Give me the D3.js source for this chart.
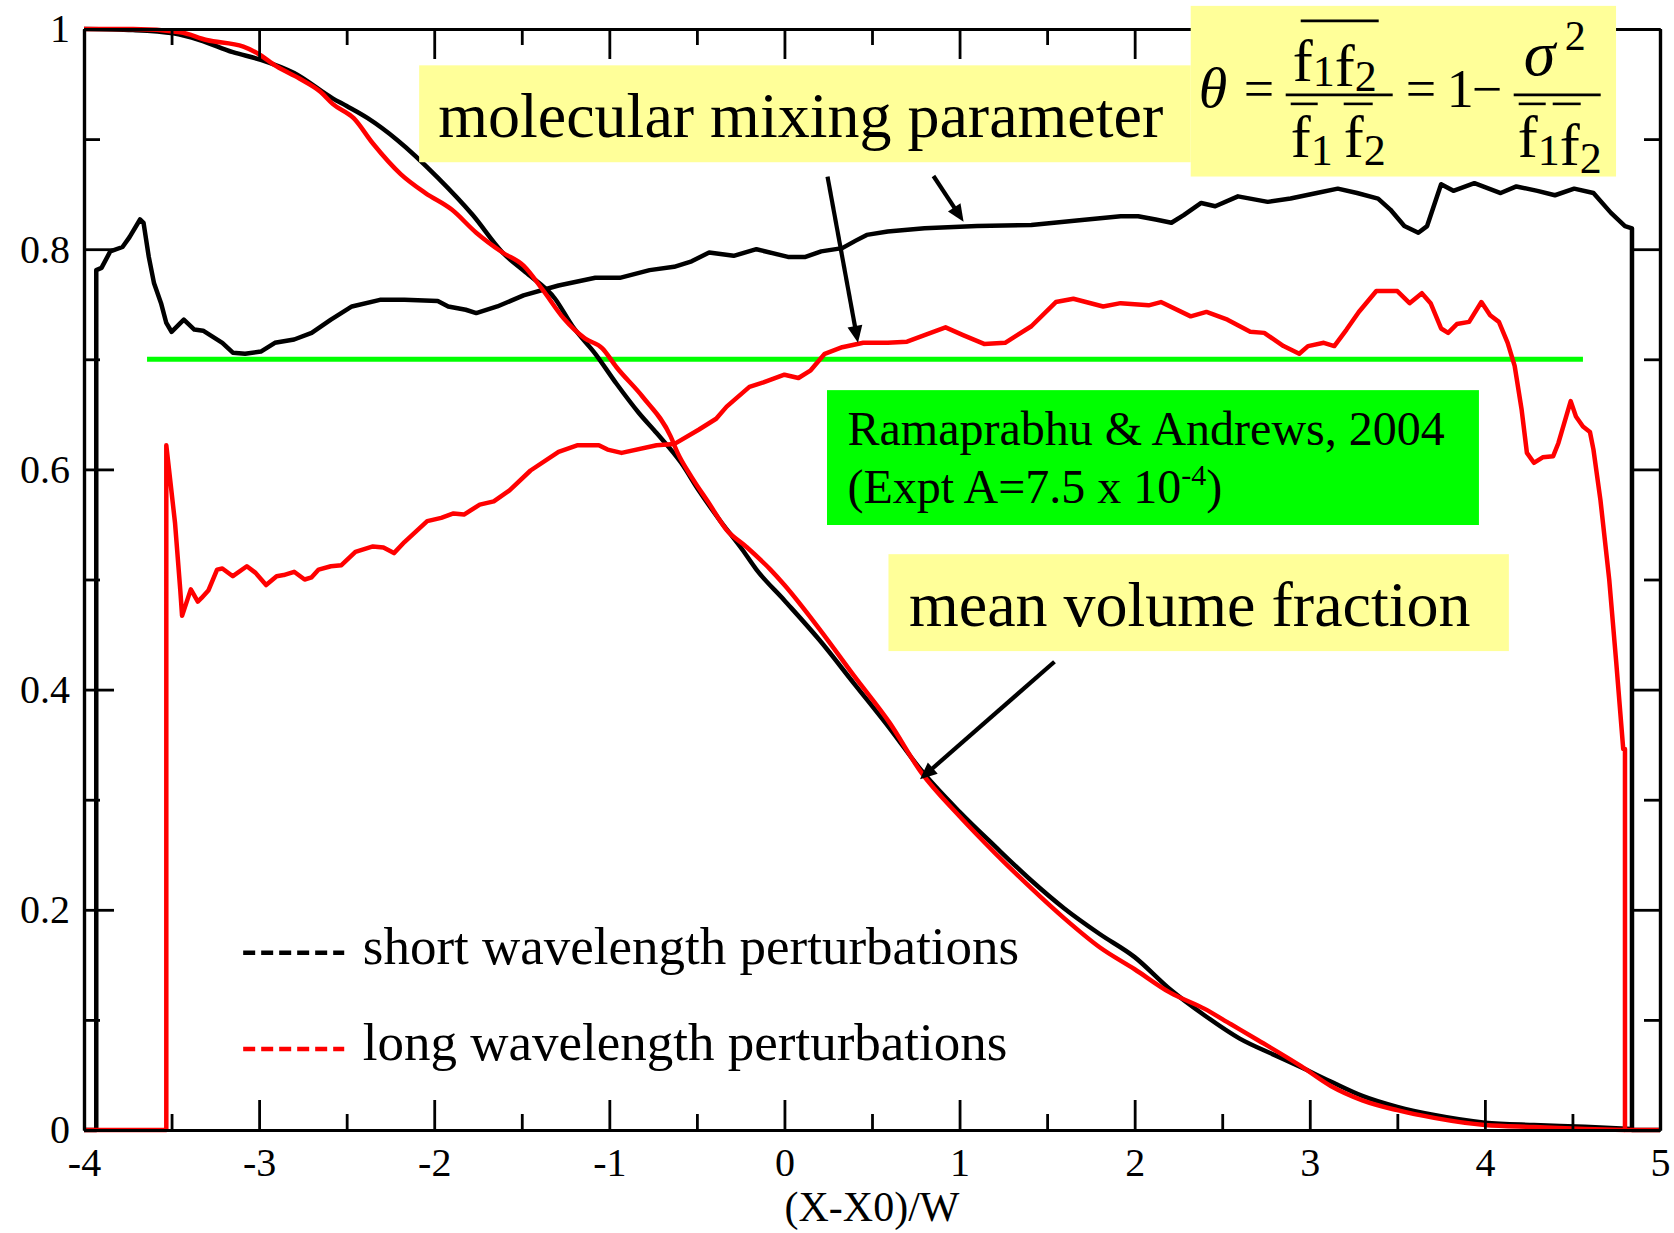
<!DOCTYPE html>
<html>
<head>
<meta charset="utf-8">
<script src="https://cdn.jsdelivr.net/npm/d3@7"></script>
<style>
  html, body { margin: 0; padding: 0; background: #fff; }
  svg { display: block; }
  text { font-family: "Liberation Serif", "Times New Roman", serif; fill: #000; }
</style>
</head>
<body>
<svg id="chart" width="1674" height="1233"></svg>
<script>
// ---- axis ticks ----
const xTicks = [-4, -3, -2, -1, 0, 1, 2, 3, 4, 5];
const xTickLabels = ["-4", "-3", "-2", "-1", "0", "1", "2", "3", "4", "5"];
const xMinorTicks = [-3.5, -2.5, -1.5, -0.5, 0.5, 1.5, 2.5, 3.5, 4.5];
const yTicks = [0, 0.2, 0.4, 0.6, 0.8, 1];
const yTickLabels = ["0", "0.2", "0.4", "0.6", "0.8", "1"];
const yMinorTicks = [0.1, 0.3, 0.5, 0.7, 0.9];

// ---- mean volume fraction profiles [x, f] ----
const volShort = [
  [-4.0, 1.0], [-3.72, 0.999], [-3.49, 0.996], [-3.34, 0.990], [-3.15, 0.979], [-2.99, 0.972],
  [-2.80, 0.960], [-2.58, 0.937], [-2.50, 0.930], [-2.38, 0.919], [-2.21, 0.899], [-1.98, 0.865],
  [-1.78, 0.831], [-1.61, 0.797], [-1.47, 0.778], [-1.31, 0.755], [-1.21, 0.730], [-1.08, 0.705],
  [-0.96, 0.678], [-0.83, 0.651], [-0.73, 0.633], [-0.59, 0.606], [-0.49, 0.581], [-0.37, 0.554],
  [-0.24, 0.527], [-0.16, 0.509], [0.0, 0.481], [0.2, 0.445], [0.4, 0.405], [0.6, 0.365],
  [0.78, 0.327], [1.0, 0.289], [1.2, 0.258], [1.4, 0.228], [1.6, 0.201], [1.8, 0.178],
  [2.0, 0.157], [2.2, 0.128], [2.4, 0.104], [2.6, 0.083], [2.8, 0.068], [2.95, 0.057],
  [3.12, 0.044], [3.3, 0.031], [3.5, 0.021], [3.71, 0.0136], [4.0, 0.0067], [4.28, 0.0045],
  [4.57, 0.003], [4.84, 0.001]
];
const volLong = [
  [-4.0, 1.0], [-3.72, 1.0], [-3.45, 0.997], [-3.30, 0.990], [-3.09, 0.984], [-3.01, 0.978],
  [-2.90, 0.966], [-2.77, 0.955], [-2.65, 0.943], [-2.58, 0.932], [-2.46, 0.919], [-2.35, 0.896],
  [-2.19, 0.868], [-2.05, 0.851], [-1.90, 0.836], [-1.76, 0.815], [-1.61, 0.797], [-1.49, 0.785],
  [-1.38, 0.763], [-1.26, 0.737], [-1.14, 0.719], [-1.04, 0.710], [-0.96, 0.693], [-0.81, 0.666],
  [-0.65, 0.630], [-0.61, 0.615], [-0.53, 0.593], [-0.43, 0.569], [-0.33, 0.545], [-0.22, 0.530],
  [-0.08, 0.509], [0.0, 0.495], [0.2, 0.455], [0.4, 0.412], [0.6, 0.370], [0.78, 0.325],
  [1.0, 0.285], [1.2, 0.252], [1.4, 0.221], [1.6, 0.192], [1.8, 0.166], [2.0, 0.146],
  [2.2, 0.125], [2.4, 0.110], [2.55, 0.096], [2.7, 0.082], [2.95, 0.058], [3.12, 0.040],
  [3.3, 0.027], [3.5, 0.018], [3.71, 0.011], [4.0, 0.0045], [4.28, 0.0027], [4.57, 0.001],
  [4.80, 0.0]
];

// ---- molecular mixing parameter profiles [x, theta] ----
const mixShort = [
  [-4.0, 0], [-3.93, 0], [-3.93, 0.781], [-3.90, 0.783], [-3.85, 0.798], [-3.78, 0.802],
  [-3.74, 0.811], [-3.68, 0.827], [-3.66, 0.824], [-3.63, 0.793], [-3.60, 0.769], [-3.56, 0.751],
  [-3.53, 0.733], [-3.50, 0.725], [-3.43, 0.736], [-3.37, 0.727], [-3.32, 0.726], [-3.21, 0.715],
  [-3.15, 0.706], [-3.08, 0.705], [-2.99, 0.707], [-2.91, 0.715], [-2.80, 0.718], [-2.70, 0.724],
  [-2.59, 0.736], [-2.47, 0.748], [-2.31, 0.754], [-2.17, 0.754], [-1.98, 0.753], [-1.92, 0.748],
  [-1.82, 0.745], [-1.76, 0.742], [-1.64, 0.748], [-1.49, 0.758], [-1.29, 0.767], [-1.08, 0.774],
  [-0.94, 0.774], [-0.77, 0.781], [-0.63, 0.784], [-0.53, 0.789], [-0.43, 0.797], [-0.29, 0.794],
  [-0.16, 0.800], [0.02, 0.793], [0.12, 0.793], [0.21, 0.798], [0.33, 0.801], [0.41, 0.808],
  [0.47, 0.813], [0.59, 0.816], [0.80, 0.819], [1.10, 0.821], [1.41, 0.822], [1.67, 0.826],
  [1.92, 0.830], [2.02, 0.830], [2.12, 0.827], [2.21, 0.824], [2.28, 0.831], [2.38, 0.842],
  [2.46, 0.839], [2.59, 0.848], [2.76, 0.843], [2.89, 0.846], [3.04, 0.851], [3.16, 0.855],
  [3.27, 0.851], [3.39, 0.846], [3.46, 0.836], [3.54, 0.821], [3.62, 0.815], [3.67, 0.821],
  [3.75, 0.859], [3.82, 0.853], [3.94, 0.860], [4.09, 0.851], [4.18, 0.857], [4.30, 0.853],
  [4.40, 0.849], [4.51, 0.855], [4.62, 0.851], [4.72, 0.833], [4.80, 0.821], [4.84, 0.819],
  [4.84, 0], [5.0, 0]
];
const mixLong = [
  [-4.0, 0], [-3.53, 0], [-3.53, 0.622], [-3.48, 0.551], [-3.45, 0.490], [-3.44, 0.467],
  [-3.39, 0.491], [-3.35, 0.480], [-3.33, 0.483], [-3.29, 0.490], [-3.24, 0.509], [-3.21, 0.510],
  [-3.15, 0.503], [-3.07, 0.512], [-3.02, 0.506], [-2.96, 0.495], [-2.90, 0.503], [-2.86, 0.504],
  [-2.80, 0.507], [-2.74, 0.500], [-2.70, 0.502], [-2.66, 0.509], [-2.59, 0.512], [-2.53, 0.513],
  [-2.45, 0.525], [-2.35, 0.530], [-2.29, 0.529], [-2.23, 0.524], [-2.17, 0.534], [-2.04, 0.553],
  [-1.96, 0.556], [-1.89, 0.560], [-1.83, 0.559], [-1.74, 0.568], [-1.66, 0.571], [-1.57, 0.581],
  [-1.45, 0.599], [-1.29, 0.616], [-1.18, 0.622], [-1.06, 0.622], [-1.01, 0.618], [-0.93, 0.615],
  [-0.73, 0.622], [-0.63, 0.623], [-0.49, 0.636], [-0.39, 0.646], [-0.33, 0.657], [-0.20, 0.675],
  [-0.12, 0.679], [0.00, 0.686], [0.08, 0.683], [0.15, 0.690], [0.23, 0.705], [0.33, 0.711],
  [0.45, 0.715], [0.59, 0.715], [0.70, 0.716], [0.80, 0.722], [0.92, 0.729], [1.02, 0.722],
  [1.14, 0.714], [1.26, 0.715], [1.41, 0.730], [1.55, 0.752], [1.65, 0.755], [1.82, 0.748],
  [1.92, 0.751], [2.08, 0.749], [2.15, 0.752], [2.32, 0.739], [2.41, 0.743], [2.53, 0.736],
  [2.66, 0.725], [2.74, 0.724], [2.85, 0.712], [2.94, 0.705], [2.99, 0.712], [3.08, 0.715],
  [3.14, 0.712], [3.21, 0.727], [3.28, 0.743], [3.38, 0.762], [3.50, 0.762], [3.57, 0.751],
  [3.64, 0.760], [3.69, 0.751], [3.75, 0.728], [3.79, 0.724], [3.84, 0.732], [3.91, 0.734],
  [3.98, 0.752], [4.03, 0.740], [4.08, 0.734], [4.13, 0.715], [4.17, 0.694], [4.21, 0.654],
  [4.24, 0.615], [4.28, 0.606], [4.33, 0.611], [4.39, 0.612], [4.42, 0.624], [4.49, 0.662],
  [4.52, 0.648], [4.56, 0.639], [4.60, 0.634], [4.62, 0.618], [4.66, 0.572], [4.71, 0.500],
  [4.75, 0.425], [4.79, 0.346], [4.80, 0.346], [4.80, 0], [5.0, 0]
];

// experimental reference level (Ramaprabhu & Andrews, 2004)
const exptTheta = 0.7;
const exptRange = [-3.64, 4.56];

const legendItems = [
  { label: "short wavelength perturbations", color: "#000000" },
  { label: "long wavelength perturbations", color: "#ff0000" }
];

// ---- layout ----
const W = 1674, H = 1233;
const margin = { left: 84, top: 29, right: 14, bottom: 103 };
const svg = d3.select("#chart");
const x = d3.scaleLinear().domain([-4, 5]).range([margin.left, W - margin.right]);
const y = d3.scaleLinear().domain([0, 1]).range([H - margin.bottom, margin.top]);

const lineSmooth = d3.line().x(d => x(d[0])).y(d => y(d[1])).curve(d3.curveMonotoneX);
const lineRaw = d3.line().x(d => x(d[0])).y(d => y(d[1]));

// reference level
svg.append("line")
  .attr("x1", x(exptRange[0])).attr("x2", x(exptRange[1]))
  .attr("y1", y(exptTheta)).attr("y2", y(exptTheta))
  .attr("stroke", "#00ff00").attr("stroke-width", 5);

// curves
const series = [
  { data: volShort, color: "#000", gen: lineSmooth },
  { data: mixShort, color: "#000", gen: lineRaw },
  { data: volLong, color: "#ff0000", gen: lineSmooth },
  { data: mixLong, color: "#ff0000", gen: lineRaw }
];
svg.append("g").selectAll("path").data(series).join("path")
  .attr("d", s => s.gen(s.data))
  .attr("fill", "none")
  .attr("stroke", s => s.color)
  .attr("stroke-width", 4.5)
  .attr("stroke-linejoin", "round");

// ---- axes: frame with inward ticks on all four sides ----
function styleAxis(g) {
  g.selectAll(".domain").attr("stroke", "#000").attr("stroke-width", 3.2);
  g.selectAll(".tick line").attr("stroke", "#000").attr("stroke-width", 2.8);
  g.selectAll("text").attr("font-family", "Liberation Serif, Times New Roman, serif")
    .attr("font-size", 40).attr("fill", "#000");
}
const yBase = H - margin.bottom, xLeft = margin.left, xRight = W - margin.right;

svg.append("g").attr("transform", `translate(0,${yBase})`)
  .call(d3.axisBottom(x).tickValues(xTicks).tickSizeInner(-30).tickSizeOuter(0).tickPadding(18)
    .tickFormat((d, i) => xTickLabels[i]))
  .call(styleAxis);
svg.append("g").attr("transform", `translate(0,${yBase})`)
  .call(d3.axisBottom(x).tickValues(xMinorTicks).tickSizeInner(-16).tickSizeOuter(0).tickFormat(""))
  .call(styleAxis);
svg.append("g").attr("transform", `translate(0,${margin.top})`)
  .call(d3.axisTop(x).tickValues(xTicks).tickSizeInner(-30).tickSizeOuter(0).tickFormat(""))
  .call(styleAxis);
svg.append("g").attr("transform", `translate(0,${margin.top})`)
  .call(d3.axisTop(x).tickValues(xMinorTicks).tickSizeInner(-16).tickSizeOuter(0).tickFormat(""))
  .call(styleAxis);
svg.append("g").attr("transform", `translate(${xLeft},0)`)
  .call(d3.axisLeft(y).tickValues(yTicks).tickSizeInner(-30).tickSizeOuter(0).tickPadding(14)
    .tickFormat((d, i) => yTickLabels[i]))
  .call(styleAxis);
svg.append("g").attr("transform", `translate(${xLeft},0)`)
  .call(d3.axisLeft(y).tickValues(yMinorTicks).tickSizeInner(-16).tickSizeOuter(0).tickFormat(""))
  .call(styleAxis);
svg.append("g").attr("transform", `translate(${xRight},0)`)
  .call(d3.axisRight(y).tickValues(yTicks).tickSizeInner(-30).tickSizeOuter(0).tickFormat(""))
  .call(styleAxis);
svg.append("g").attr("transform", `translate(${xRight},0)`)
  .call(d3.axisRight(y).tickValues(yMinorTicks).tickSizeInner(-16).tickSizeOuter(0).tickFormat(""))
  .call(styleAxis);

// axis title
svg.append("text")
  .attr("x", (xLeft + xRight) / 2).attr("y", 1221)
  .attr("text-anchor", "middle").attr("font-size", 42)
  .text("(X-X0)/W");

// ---- legend ----
const legend = svg.append("g");
legendItems.forEach((item, i) => {
  const ly = 0.161 - i * 0.0874;
  legend.append("line")
    .attr("x1", x(-3.091)).attr("x2", x(-2.514))
    .attr("y1", y(ly)).attr("y2", y(ly))
    .attr("stroke", item.color).attr("stroke-width", 4.5)
    .attr("stroke-dasharray", "12,6");
  legend.append("text")
    .attr("x", x(-2.408)).attr("y", y(ly) + 11)
    .attr("font-size", 53)
    .text(item.label);
});

// ---- arrows ----
function arrow(x1, y1, x2, y2) {
  const X1 = x(x1), Y1 = y(y1), X2 = x(x2), Y2 = y(y2);
  const dx = X2 - X1, dy = Y2 - Y1, len = Math.hypot(dx, dy);
  const ux = dx / len, uy = dy / len;
  const hl = 17, hw = 7.5;
  const bx = X2 - ux * hl, by = Y2 - uy * hl;
  svg.append("line")
    .attr("x1", X1).attr("y1", Y1).attr("x2", bx + ux * 2).attr("y2", by + uy * 2)
    .attr("stroke", "#000").attr("stroke-width", 4.2);
  svg.append("polygon")
    .attr("points", [[X2, Y2], [bx - uy * hw, by + ux * hw], [bx + uy * hw, by - ux * hw]]
      .map(p => p.join(",")).join(" "))
    .attr("fill", "#000");
}
arrow(0.246, 0.866, 0.42, 0.715);
arrow(0.851, 0.8665, 1.023, 0.825);
arrow(1.542, 0.4253, 0.774, 0.3185);

// ---- annotation boxes ----
function box(x0, x1, yTop, yBot, fill) {
  return svg.append("rect")
    .attr("x", x(x0)).attr("y", y(yTop))
    .attr("width", x(x1) - x(x0)).attr("height", y(yBot) - y(yTop))
    .attr("fill", fill);
}

box(-2.086, 2.32, 0.967, 0.879, "#ffff99");
svg.append("text").attr("x", x(-1.977)).attr("y", y(0.902))
  .attr("font-size", 64).text("molecular mixing parameter");

box(0.594, 4.137, 0.523, 0.435, "#ffff99");
svg.append("text").attr("x", x(0.711)).attr("y", y(0.4578))
  .attr("font-size", 64).text("mean volume fraction");

box(0.243, 3.966, 0.672, 0.5495, "#00ff00");
svg.append("text").attr("x", x(0.36)).attr("y", y(0.622))
  .attr("font-size", 48).text("Ramaprabhu & Andrews, 2004");
const t2 = svg.append("text").attr("x", x(0.36)).attr("y", y(0.5695)).attr("font-size", 48);
t2.append("tspan").text("(Expt A=7.5 x 10");
t2.append("tspan").attr("font-size", 30).attr("dy", -18).text("-4");
t2.append("tspan").attr("dy", 18).text(")");

// ---- definition of the mixing parameter ----
box(2.32, 4.749, 1.021, 0.866, "#ffff99");
const fx = x(2.32), fy = y(1.021);
const eq = svg.append("g").attr("transform", `translate(${fx},${fy})`);
function txt(tx, ty, s, size, italic) {
  return eq.append("text").attr("x", tx).attr("y", ty).attr("font-size", size)
    .attr("font-style", italic ? "italic" : "normal").text(s);
}
function fsub(tx, ty, parts, drop) {
  const t = eq.append("text").attr("x", tx).attr("y", ty).attr("font-size", 60);
  parts.forEach(p => {
    t.append("tspan").attr("font-size", 60).text("f");
    t.append("tspan").attr("font-size", 44).attr("dy", drop).text(p);
    t.append("tspan").attr("font-size", 60).attr("dy", -drop).text("");
  });
  return t;
}
function hbar(a, b, yy, w) {
  eq.append("line").attr("x1", a).attr("x2", b).attr("y1", yy).attr("y2", yy)
    .attr("stroke", "#000").attr("stroke-width", w || 2.6);
}
txt(8, 101, "\u03B8", 58, true);
txt(53, 101, "=", 54, false);
hbar(95, 202, 89);
fsub(102, 75, ["1", "2"], 5);
hbar(110, 188, 15);
fsub(100, 151, ["1"], 8);
fsub(153, 151, ["2"], 8);
hbar(100, 127, 98);
hbar(153, 182, 98);
txt(215, 101, "=", 54, false);
txt(256, 101, "1", 54, false);
txt(281, 101, "\u2212", 54, false);
hbar(323, 410, 89);
txt(333, 69, "\u03C3", 64, true);
txt(374, 44, "2", 42, false);
fsub(327, 151, ["1", "2"], 8);
hbar(328, 355, 98);
hbar(362, 390, 98);
</script>
</body>
</html>
